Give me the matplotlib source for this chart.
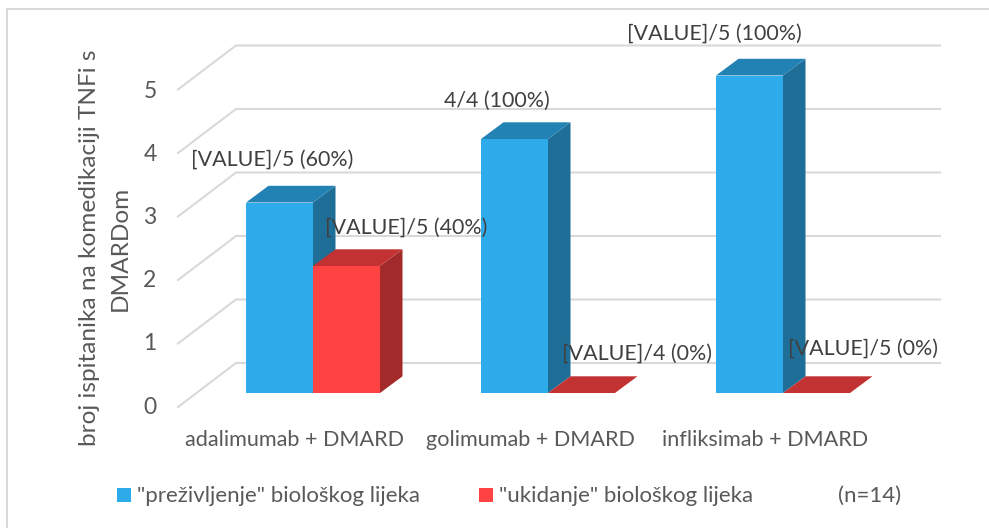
import matplotlib
matplotlib.use('Agg')
import matplotlib.pyplot as plt
from matplotlib.patches import Polygon, Rectangle

plt.rcParams['font.family'] = ['Lato', 'DejaVu Sans']

# Data
categories = ['adalimumab + DMARD', 'golimumab + DMARD', 'infliksimab + DMARD']
survival = [3, 4, 5]
stopped = [2, 0, 0]
survival_labels = ['[VALUE]/5 (60%)', '4/4 (100%)', '[VALUE]/5 (100%)']
stopped_labels = ['[VALUE]/5 (40%)', '[VALUE]/4 (0%)', '[VALUE]/5 (0%)']
y_ticks = [0, 1, 2, 3, 4, 5]
legend_labels = ['"preživljenje" biološkog lijeka', '"ukidanje" biološkog lijeka', '(n=14)']

W, H = 989, 528
X0, Y0 = 313, 393   # pixel of category 0 / value 0
XU, YU = 235, 63.5  # pixels per category / per value

fig = plt.figure(figsize=(W / 100, H / 100), dpi=100)
ax = fig.add_axes([0, 0, 1, 1])
ax.set_xlim(-X0 / XU, (W - X0) / XU)
ax.set_ylim((Y0 - H) / YU, Y0 / YU)
ax.axis('off')

bar_w = 67 / XU
depth_x, depth_y = 22.5 / XU, 16.7 / YU
wall_dx, wall_dy = 58 / XU, 44 / YU
wall_left = (236 - X0) / XU
wall_right = (940 - X0) / XU
wall_base = (Y0 - 363) / YU
grid_col = '#d9d9d9'


def bar3d(x, v, front, top, side):
    if v > 0:
        ax.add_patch(Polygon([(x + bar_w, 0), (x + bar_w + depth_x, depth_y),
                              (x + bar_w + depth_x, v + depth_y), (x + bar_w, v)],
                             fc=side, ec='none', zorder=3))
        ax.add_patch(Rectangle((x, 0), bar_w, v, fc=front, ec='none', zorder=3))
    ax.add_patch(Polygon([(x, v), (x + bar_w, v), (x + bar_w + depth_x, v + depth_y),
                          (x + depth_x, v + depth_y)], fc=top, ec='none', zorder=3))


# back wall and side wall gridlines
for t in y_ticks:
    yy = wall_base + t
    ax.plot([wall_left - wall_dx, wall_left, wall_right], [yy - wall_dy, yy, yy],
            color=grid_col, lw=1.5, zorder=1, solid_joinstyle='miter')
    ax.text((150 - X0) / XU, (Y0 - 407) / YU + t * 63.2 / YU, str(t), fontsize=16.5,
            color='#595959', ha='center', va='center')

for i, cat in enumerate(categories):
    bar3d(i - bar_w, survival[i], '#2eabea', '#2382b4', '#1f6e98')
    bar3d(i, stopped[i], '#ff4343', '#c33232', '#a32a2a')
    ax.text(i - 18 / XU, (Y0 - 439.5) / YU, cat, fontsize=15.6, color='#595959',
            ha='center', va='center')

# data labels, moved by hand in the source chart
survival_off = [(-7, 43), (-18, 38), (-35, 42)]
stopped_off = [(60, 38), (56, 39), (47, 44)]
for i in range(3):
    ax.annotate(survival_labels[i], xy=(i - bar_w / 2, survival[i]), xytext=survival_off[i],
                textcoords='offset pixels', fontsize=15.4, color='#404040',
                ha='center', va='center', zorder=5)
    ax.annotate(stopped_labels[i], xy=(i + bar_w / 2, stopped[i]), xytext=stopped_off[i],
                textcoords='offset pixels', fontsize=15.4, color='#404040',
                ha='center', va='center', zorder=5)

# y axis title
ax.text((105 - X0) / XU, (Y0 - 248) / YU, 'broj ispitanika na komedikaciji TNFi s\nDMARDom',
        rotation=90, fontsize=17.6, color='#595959', ha='center', va='center',
        multialignment='center', linespacing=1.55)

# legend
fig.add_artist(Rectangle((116.5 / W, 1 - 502 / H), 14 / W, 14 / H, fc='#2eabea', ec='none',
                         transform=fig.transFigure))
fig.add_artist(Rectangle((479 / W, 1 - 502 / H), 14 / W, 14 / H, fc='#ff4343', ec='none',
                         transform=fig.transFigure))
for x_px, txt in zip([137, 499, 838], legend_labels):
    fig.text(x_px / W, 1 - 496 / H, txt, fontsize=16, color='#595959', ha='left', va='center')

# chart border, only top and left are visible
fig.add_artist(plt.Line2D([7 / W, 7 / W, 1], [0, 1 - 9 / H, 1 - 9 / H], color=grid_col, lw=1.5,
                          transform=fig.transFigure, solid_joinstyle='miter'))

fig.savefig('out.png', dpi=100)
